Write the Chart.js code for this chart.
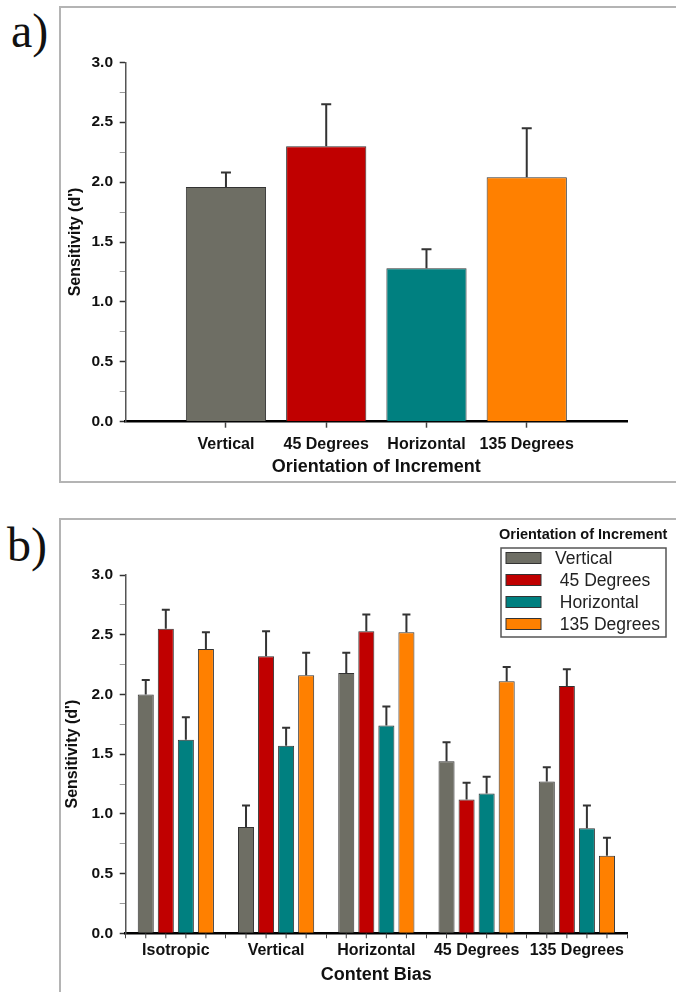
<!DOCTYPE html>
<html><head><meta charset="utf-8">
<script src="https://cdn.jsdelivr.net/npm/chart.js@4.4.1/dist/chart.umd.min.js"></script>
<style>
html,body{margin:0;padding:0;background:#fff;overflow:hidden;width:676px;height:992px;}
.frame{position:absolute;border:2px solid #b4b4b4;box-sizing:border-box;}
.lbl{position:absolute;font-family:'Liberation Serif','Times New Roman',serif;font-size:48px;line-height:1;color:#111;}
.cw{position:absolute;}
</style></head><body>
<div class="frame" style="left:59px;top:6px;width:720px;height:477px;"></div>
<div class="frame" style="left:59px;top:518px;width:720px;height:500px;"></div>
<div class="lbl" style="left:11px;top:7px;">a)</div>
<div class="lbl" style="left:7px;top:521px;">b)</div>
<div class="cw" style="left:60px;top:8px;width:616px;height:474px;"><canvas id="ca"></canvas></div>
<div class="cw" style="left:60px;top:519px;width:616px;height:473px;"><canvas id="cb"></canvas></div>
<script>
// ---------- data: panel a ----------
const orientCats = ['Vertical', '45 Degrees', 'Horizontal', '135 Degrees'];
const orientMean = [1.96, 2.30, 1.28, 2.04];
const orientErr  = [0.12, 0.35, 0.16, 0.41];

// ---------- data: panel b ----------
const biasCats = ['Isotropic', 'Vertical', 'Horizontal', '45 Degrees', '135 Degrees'];
const seriesNames = ['Vertical', ' 45 Degrees', ' Horizontal', ' 135 Degrees'];
const vertMean  = [2.00, 0.89, 2.18, 1.44, 1.27];
const vertErr   = [0.12, 0.18, 0.17, 0.16, 0.12];
const deg45Mean = [2.55, 2.32, 2.53, 1.12, 2.07];
const deg45Err  = [0.16, 0.21, 0.14, 0.14, 0.14];
const horzMean  = [1.62, 1.57, 1.74, 1.17, 0.88];
const horzErr   = [0.19, 0.15, 0.16, 0.14, 0.19];
const deg135Mean = [2.38, 2.16, 2.52, 2.11, 0.65];
const deg135Err  = [0.14, 0.19, 0.15, 0.12, 0.15];
const yTickMajor = [0, 0.5, 1.0, 1.5, 2.0, 2.5, 3.0];
const legendTitle = 'Orientation of Increment';

// ---------- styles ----------
const COLORS = ['#6e6e64', '#c00000', '#008080', '#ff8000'];
const FONT = "'Liberation Sans', Arial, Helvetica, sans-serif";
Chart.defaults.font.family = FONT;
Chart.defaults.color = '#111';
Chart.defaults.animation = false;

const errorBars = {
  id: 'errorBars',
  afterDatasetsDraw(chart, args, opts) {
    const ctx = chart.ctx, ys = chart.scales.y;
    chart.data.datasets.forEach((ds, di) => {
      const meta = chart.getDatasetMeta(di);
      if (!ds.errors) return;
      meta.data.forEach((bar, i) => {
        const d = ds.data[i];
        const val = (typeof d === 'object') ? d.y : d;
        const yTop = ys.getPixelForValue(val + ds.errors[i]);
        ctx.save();
        ctx.strokeStyle = opts.color; ctx.lineWidth = opts.width;
        ctx.beginPath();
        ctx.moveTo(bar.x, bar.y); ctx.lineTo(bar.x, yTop);
        ctx.moveTo(bar.x - opts.cap / 2, yTop); ctx.lineTo(bar.x + opts.cap / 2, yTop);
        ctx.stroke();
        if (opts.barTicks) {
          const yb = chart.chartArea.bottom;
          ctx.strokeStyle = '#444'; ctx.lineWidth = 1;
          ctx.beginPath(); ctx.moveTo(bar.x, yb); ctx.lineTo(bar.x, yb + 5); ctx.stroke();
        }
        ctx.restore();
      });
    });
  }
};

const boxLegend = {
  id: 'boxLegend',
  afterDraw(chart, args, o) {
    if (!o || !o.show) return;
    const ctx = chart.ctx;
    ctx.save();
    ctx.fillStyle = '#111';
    ctx.font = 'bold 14.5px ' + FONT;
    ctx.textBaseline = 'middle'; ctx.textAlign = 'left';
    ctx.fillText(o.title, o.x - 2, o.y - 13);
    ctx.strokeStyle = '#555'; ctx.lineWidth = 1.5;
    ctx.strokeRect(o.x, o.y, o.w, o.h);
    chart.data.datasets.forEach((ds, i) => {
      const cy = o.y + 10 + i * 22;
      ctx.fillStyle = ds.backgroundColor;
      ctx.fillRect(o.x + 5, cy - 5.5, 35, 11);
      ctx.strokeStyle = '#333'; ctx.lineWidth = 1;
      ctx.strokeRect(o.x + 5, cy - 5.5, 35, 11);
      ctx.fillStyle = '#222';
      ctx.font = '17.5px ' + FONT;
      ctx.fillText(ds.label, o.x + 54, cy + 1);
    });
    ctx.restore();
  }
};

function yScale(titlePad) {
  return {
    min: 0, max: 3,
    afterFit: s => { s.width = 65.7; },
    afterBuildTicks: s => {
      const t = [];
      for (let k = 0; k <= 12; k++) t.push({ value: k * 0.25 });
      s.ticks = t;
    },
    ticks: {
      autoSkip: false, padding: 6.7, color: '#111',
      font: { size: 15.5, weight: 'bold' },
      callback: v => yTickMajor.some(m => Math.abs(m - v) < 1e-6) ? Number(v).toFixed(1) : ''
    },
    grid: {
      drawOnChartArea: false, tickLength: 6,
      tickColor: c => (c.tick && yTickMajor.some(m => Math.abs(m - c.tick.value) < 1e-6)) ? '#333' : '#999',
      tickWidth: c => (c.tick && yTickMajor.some(m => Math.abs(m - c.tick.value) < 1e-6)) ? 1.5 : 1
    },
    border: { color: '#555', width: 1.5 },
    title: { display: true, text: "Sensitivity (d')", color: '#111',
      font: { size: 16, weight: 'bold' }, padding: { top: titlePad, bottom: 0 } }
  };
}

// ---------- panel a ----------
new Chart(document.getElementById('ca'), {
  type: 'bar',
  data: {
    datasets: [{
      label: 'Sensitivity',
      data: orientMean.map((v, i) => ({ x: i, y: v })),
      errors: orientErr,
      backgroundColor: COLORS,
      borderColor: '#333', borderWidth: 1,
      barPercentage: 0.8, categoryPercentage: 1.0
    }]
  },
  options: {
    responsive: true, maintainAspectRatio: false,
    layout: { padding: { top: 54.3, right: 49, left: 0, bottom: 0 } },
    plugins: { legend: { display: false }, tooltip: { enabled: false },
      errorBars: { color: '#333', width: 2, cap: 10 } },
    scales: {
      x: {
        type: 'linear', min: -1, max: 4, offset: false, bounds: 'data',
        afterFit: s => { s.height = 60.3; },
        afterBuildTicks: s => { s.ticks = orientCats.map((c, i) => ({ value: i })); },
        ticks: { autoSkip: false, maxRotation: 0, padding: 7, color: '#111',
          font: { size: 16, weight: 'bold' }, callback: v => orientCats[v] ?? '' },
        grid: { offset: false, drawOnChartArea: false, tickLength: 6, tickColor: '#444', tickWidth: 1.5 },
        border: { color: '#000', width: 2.5 },
        title: { display: true, text: 'Orientation of Increment', color: '#111',
          font: { size: 18, weight: 'bold' }, padding: { top: 0, bottom: 4.2 } }
      },
      y: yScale(6.4)
    }
  },
  plugins: [errorBars]
});

// ---------- panel b ----------
const meansB = [vertMean, deg45Mean, horzMean, deg135Mean];
const errsB = [vertErr, deg45Err, horzErr, deg135Err];
new Chart(document.getElementById('cb'), {
  type: 'bar',
  data: {
    labels: biasCats,
    datasets: seriesNames.map((n, i) => ({
      label: n, data: meansB[i], errors: errsB[i],
      backgroundColor: COLORS[i], borderColor: '#333', borderWidth: 1,
      barPercentage: 0.8, categoryPercentage: 0.8
    }))
  },
  options: {
    responsive: true, maintainAspectRatio: false,
    layout: { padding: { top: 56, right: 49, left: 0, bottom: 0 } },
    plugins: { legend: { display: false }, tooltip: { enabled: false },
      errorBars: { color: '#333', width: 2, cap: 8, barTicks: true },
      boxLegend: { show: true, title: legendTitle, x: 441, y: 29, w: 165, h: 89 } },
    scales: {
      x: {
        type: 'category', offset: true,
        afterFit: s => { s.height = 58.7; },
        ticks: { autoSkip: false, maxRotation: 0, padding: 3, color: '#111',
          font: { size: 16, weight: 'bold' } },
        grid: { offset: true, drawOnChartArea: false, tickLength: 5, tickColor: '#444', tickWidth: 1 },
        border: { color: '#000', width: 2.5 },
        title: { display: true, text: 'Content Bias', color: '#111',
          font: { size: 18, weight: 'bold' }, padding: { top: 0, bottom: 6.2 } }
      },
      y: yScale(2.7)
    }
  },
  plugins: [errorBars, boxLegend]
});
</script>
</body></html>
